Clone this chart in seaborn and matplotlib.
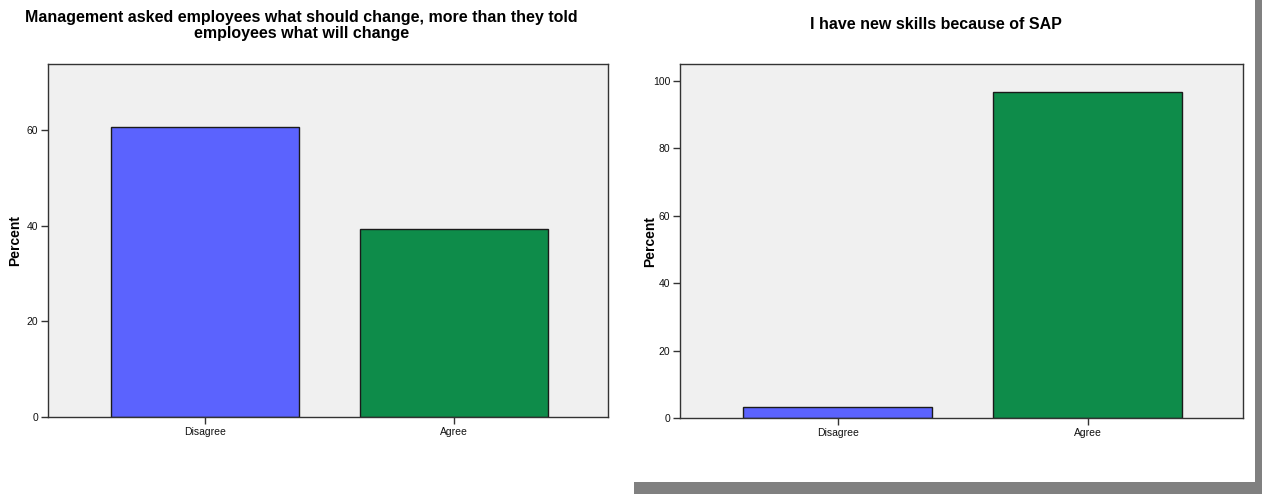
import matplotlib
matplotlib.use("Agg")
import matplotlib.pyplot as plt
import seaborn as sns
from matplotlib.patches import Rectangle

# data
categories = ["Disagree", "Agree"]
change_pct = [60.7, 39.3]
skills_pct = [3.3, 96.7]
title_left = "Management asked employees what should change, more than they told\nemployees what will change"
title_right = "I have new skills because of SAP"
ticks_left = [0, 20, 40, 60]
ticks_right = [0, 20, 40, 60, 80, 100]

bar_colors = ["#5B63FE", "#0E8C4A"]

sns.set_style("white")
plt.rcParams["font.family"] = ["Liberation Sans", "DejaVu Sans"]
plt.rcParams["text.color"] = "black"
plt.rcParams["axes.labelcolor"] = "black"

fig = plt.figure(figsize=(12.62, 4.94), dpi=100)
ax1 = fig.add_axes([0.0380, 0.1559, 0.4437, 0.7146])
ax2 = fig.add_axes([0.5388, 0.1538, 0.4461, 0.7166])


def draw(ax, values, ymax, ticks, label_x):
    sns.barplot(x=categories, y=values, hue=categories, palette=bar_colors,
                saturation=1, width=0.755, edgecolor="#1a1a1a", linewidth=1.0,
                legend=False, ax=ax)
    ax.set_facecolor("#F0F0F0")
    ax.set_xlim(-0.63, 1.62)
    ax.set_ylim(0, ymax)
    ax.set_yticks(ticks)
    ax.tick_params(axis="both", direction="out", length=5, width=1,
                   color="#333333", labelsize=7.5, pad=2, left=True, bottom=True,
                   labelcolor="#111111")
    ax.set_xlabel("")
    ax.set_ylabel("Percent", fontsize=10, fontweight="bold")
    ax.yaxis.set_label_coords(label_x, 0.5)
    for s in ax.spines.values():
        s.set_visible(True)
        s.set_color("#333333")
        s.set_linewidth(1.0)


draw(ax1, change_pct, 73.8, ticks_left, -0.046)
draw(ax2, skills_pct, 105, ticks_right, -0.041)

fig.text(0.239, 0.979, title_left, ha="center", va="top", fontsize=11.5,
         fontweight="bold", linespacing=1.05)
fig.text(0.742, 0.965, title_right, ha="center", va="top", fontsize=11.5,
         fontweight="bold")

# gray screenshot shadow around the right panel
fig.patches.append(Rectangle((0.5024, 0), 0.4976, 0.0243, transform=fig.transFigure,
                             facecolor="#808080", edgecolor="none", zorder=5))
fig.patches.append(Rectangle((0.9945, 0), 0.0055, 1, transform=fig.transFigure,
                             facecolor="#808080", edgecolor="none", zorder=5))

fig.savefig("out.png", dpi=100)
